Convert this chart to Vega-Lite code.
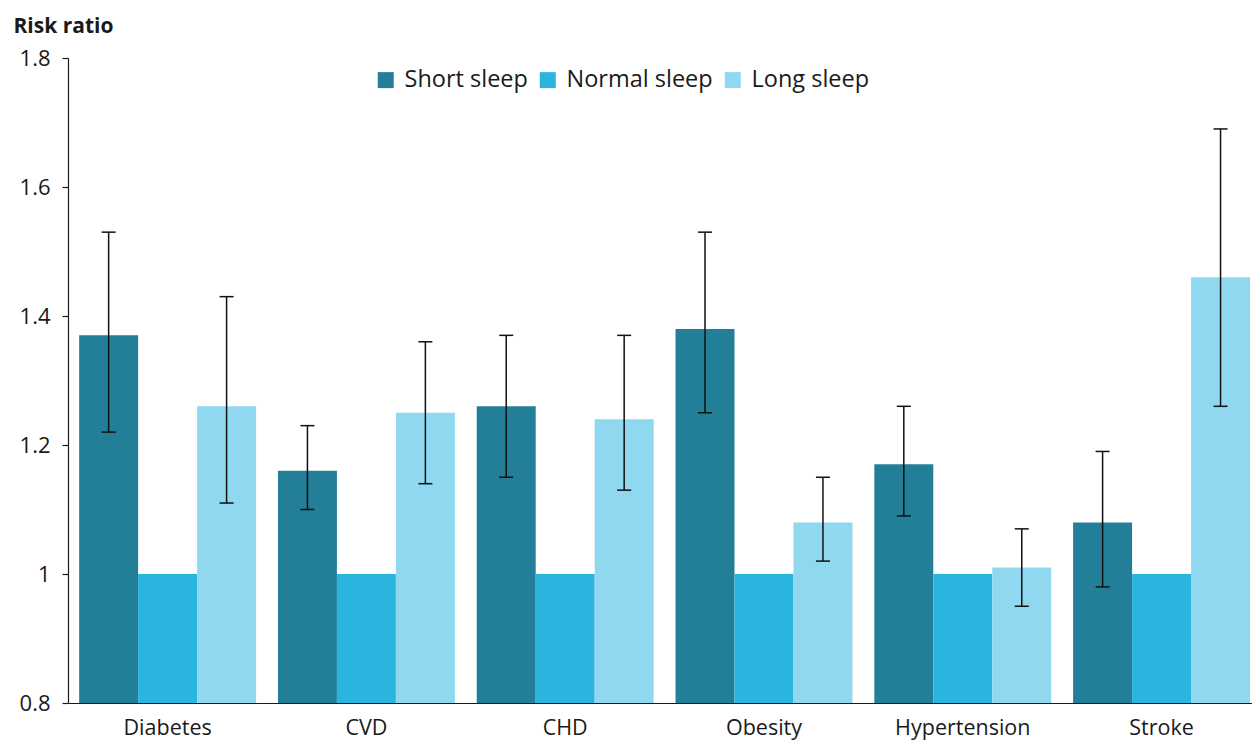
{
  "$schema": "https://vega.github.io/schema/vega-lite/v6.json",
  "autosize": {"type": "none"},
  "width": 1184,
  "height": 645,
  "padding": {"left": 68, "top": 58, "right": 0, "bottom": 37},
  "background": "white",
  "config": {
    "view": {"stroke": null},
    "font": "Open Sans",
    "axis": {"labelFont": "Open Sans", "titleFont": "Open Sans", "labelColor": "#1a1a1a", "titleColor": "#1a1a1a", "grid": false, "domainColor": "#1a1a1a", "tickColor": "#1a1a1a"},
    "legend": {"labelFont": "Open Sans", "labelColor": "#1a1a1a"}
  },
  "data": {
    "values": [
      {"category": "Diabetes", "series": "Short sleep", "value": 1.37, "lo": 1.22, "hi": 1.53},
      {"category": "Diabetes", "series": "Normal sleep", "value": 1.0, "lo": null, "hi": null},
      {"category": "Diabetes", "series": "Long sleep", "value": 1.26, "lo": 1.11, "hi": 1.43},
      {"category": "CVD", "series": "Short sleep", "value": 1.16, "lo": 1.10, "hi": 1.23},
      {"category": "CVD", "series": "Normal sleep", "value": 1.0, "lo": null, "hi": null},
      {"category": "CVD", "series": "Long sleep", "value": 1.25, "lo": 1.14, "hi": 1.36},
      {"category": "CHD", "series": "Short sleep", "value": 1.26, "lo": 1.15, "hi": 1.37},
      {"category": "CHD", "series": "Normal sleep", "value": 1.0, "lo": null, "hi": null},
      {"category": "CHD", "series": "Long sleep", "value": 1.24, "lo": 1.13, "hi": 1.37},
      {"category": "Obesity", "series": "Short sleep", "value": 1.38, "lo": 1.25, "hi": 1.53},
      {"category": "Obesity", "series": "Normal sleep", "value": 1.0, "lo": null, "hi": null},
      {"category": "Obesity", "series": "Long sleep", "value": 1.08, "lo": 1.02, "hi": 1.15},
      {"category": "Hypertension", "series": "Short sleep", "value": 1.17, "lo": 1.09, "hi": 1.26},
      {"category": "Hypertension", "series": "Normal sleep", "value": 1.0, "lo": null, "hi": null},
      {"category": "Hypertension", "series": "Long sleep", "value": 1.01, "lo": 0.95, "hi": 1.07},
      {"category": "Stroke", "series": "Short sleep", "value": 1.08, "lo": 0.98, "hi": 1.19},
      {"category": "Stroke", "series": "Normal sleep", "value": 1.0, "lo": null, "hi": null},
      {"category": "Stroke", "series": "Long sleep", "value": 1.46, "lo": 1.26, "hi": 1.69}
    ]
  },
  "encoding": {
    "x": {
      "field": "category", "type": "nominal", "sort": null,
      "scale": {"paddingInner": 0.11, "paddingOuter": 0.033, "align": 0.85},
      "axis": {"title": null, "labelAngle": 0, "ticks": false, "labelFontSize": 21.5, "labelPadding": 14, "domainWidth": 1.2, "domainColor": "#1a1a1a", "zindex": 1}
    },
    "xOffset": {
      "field": "series", "type": "nominal",
      "sort": ["Short sleep", "Normal sleep", "Long sleep"],
      "scale": {"paddingInner": 0, "paddingOuter": 0}
    }
  },
  "layer": [
    {
      "mark": {"type": "bar"},
      "encoding": {
        "y": {
          "field": "value", "type": "quantitative",
          "scale": {"domain": [0.8, 1.8], "zero": false, "nice": false},
          "axis": {
            "values": [0.8, 1, 1.2, 1.4, 1.6, 1.8], "format": "~g",
            "title": "Risk ratio", "titleAngle": 0, "titleX": -55, "titleY": -26,
            "titleAlign": "left", "titleBaseline": "alphabetic", "titleFontSize": 21, "titleFontWeight": "bold",
            "labelFontSize": 22, "labelPadding": 12, "tickSize": 6, "domainWidth": 1.2, "tickWidth": 1.2
          }
        },
        "y2": {"datum": 0.8},
        "color": {
          "field": "series", "type": "nominal",
          "sort": ["Short sleep", "Normal sleep", "Long sleep"],
          "scale": {"domain": ["Short sleep", "Normal sleep", "Long sleep"], "range": ["#237f98", "#29b5de", "#8fd8f0"]},
          "legend": {
            "title": null, "orient": "none", "direction": "horizontal",
            "legendX": 306, "legendY": 10, "symbolType": "square", "symbolSize": 256,
            "symbolStrokeWidth": 0, "labelFontSize": 23.5, "labelOffset": 7, "columnPadding": 8, "padding": 0
          }
        }
      }
    },
    {
      "transform": [{"filter": "datum.lo != null"}],
      "mark": {"type": "rule", "color": "#111111", "strokeWidth": 1.5},
      "encoding": {
        "y": {"field": "lo", "type": "quantitative"},
        "y2": {"field": "hi"}
      }
    },
    {
      "transform": [{"filter": "datum.lo != null"}],
      "mark": {"type": "tick", "color": "#111111", "thickness": 1.5, "size": 14, "opacity": 1},
      "encoding": {
        "y": {"field": "lo", "type": "quantitative"}
      }
    },
    {
      "transform": [{"filter": "datum.lo != null"}],
      "mark": {"type": "tick", "color": "#111111", "thickness": 1.5, "size": 14, "opacity": 1},
      "encoding": {
        "y": {"field": "hi", "type": "quantitative"}
      }
    }
  ]
}
